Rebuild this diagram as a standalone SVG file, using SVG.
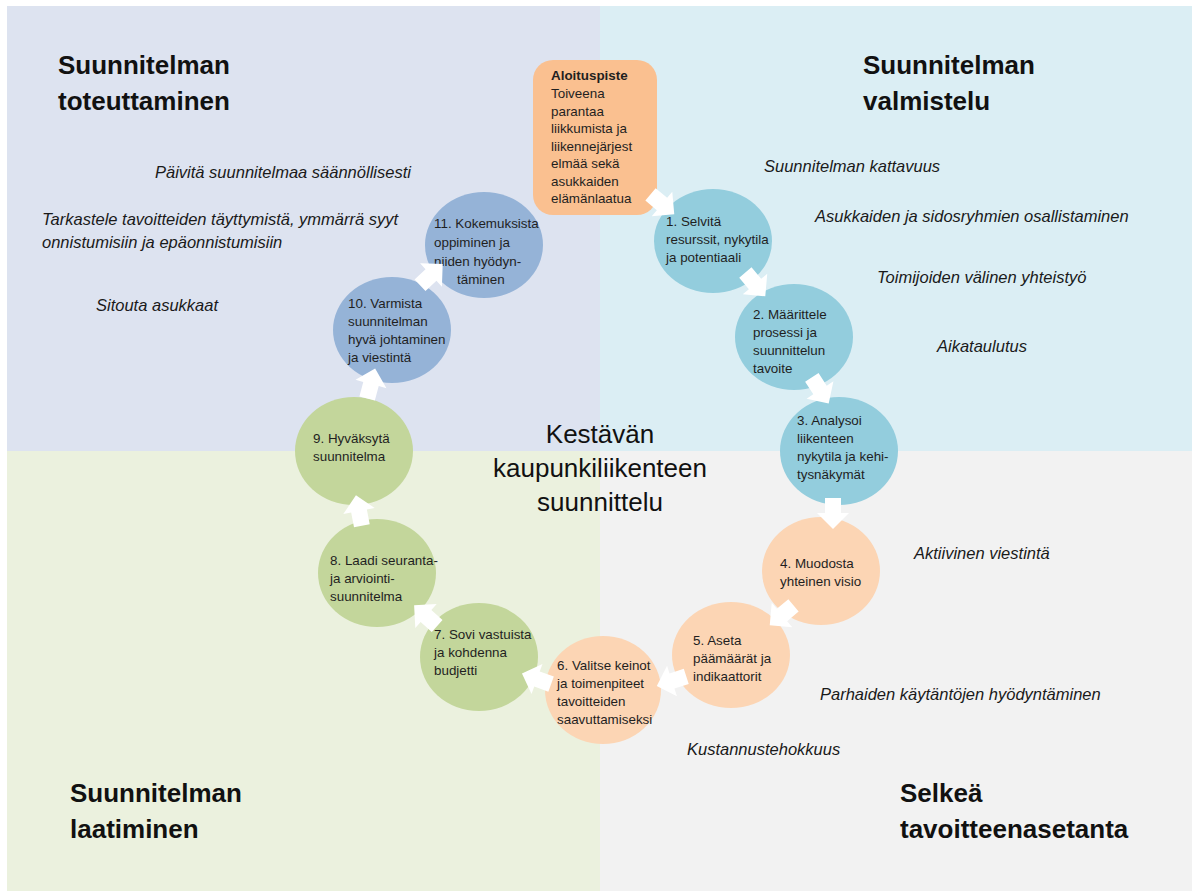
<svg xmlns="http://www.w3.org/2000/svg" xmlns:xlink="http://www.w3.org/1999/xlink" width="1198" height="893" viewBox="0 0 1198 893">
  <defs>
    <style>
      .bg { stroke: none; }
      .quad-title { font-family: "Liberation Sans", Arial, sans-serif; font-size: 26px; font-weight: bold; fill: #111; }
      .center-title { font-family: "Liberation Sans", Arial, sans-serif; font-size: 26px; fill: #111; text-anchor: middle; }
      .note { font-family: "Liberation Sans", Arial, sans-serif; font-size: 16.5px; font-style: italic; fill: #1a1a1a; }
      .step { font-family: "Liberation Sans", Arial, sans-serif; font-size: 13.4px; fill: #1f1f1f; }
      .step-bold { font-weight: bold; }
      .c-blue { fill: #93cddd; }
      .c-peach { fill: #fcd5b4; }
      .c-green { fill: #c3d69b; }
      .c-steel { fill: #95b3d7; }
      .c-start { fill: #fac090; }
      .flow { fill: #ffffff; }
    </style>
    <!-- block arrow pointing along +x, centred on the origin -->
    <path id="blockArrow" d="M-15,-8 L0,-8 L0,-16 L16,0 L0,16 L0,8 L-15,8 Z"/>
  </defs>

  <!-- quadrant backgrounds -->
  <g id="background">
    <rect class="bg" x="0" y="0" width="1198" height="893" fill="#ffffff"/>
    <rect class="bg" x="7" y="6" width="593" height="445" fill="#dde3f0"/>
    <rect class="bg" x="600" y="6" width="592" height="445" fill="#dbeef4"/>
    <rect class="bg" x="7" y="451" width="593" height="440" fill="#ebf1de"/>
    <rect class="bg" x="600" y="451" width="592" height="440" fill="#f2f2f2"/>
  </g>

  <!-- quadrant headings -->
  <g id="quadrant-titles">
    <text class="quad-title" x="58" y="74">Suunnitelman</text>
    <text class="quad-title" x="58" y="110">toteuttaminen</text>
    <text class="quad-title" x="863" y="74">Suunnitelman</text>
    <text class="quad-title" x="863" y="110">valmistelu</text>
    <text class="quad-title" x="70" y="802">Suunnitelman</text>
    <text class="quad-title" x="70" y="838">laatiminen</text>
    <text class="quad-title" x="900" y="802">Selkeä</text>
    <text class="quad-title" x="900" y="838">tavoitteenasetanta</text>
  </g>

  <!-- central heading -->
  <g id="center-title">
    <text class="center-title" x="600" y="443">Kestävän</text>
    <text class="center-title" x="600" y="477">kaupunkiliikenteen</text>
    <text class="center-title" x="600" y="511">suunnittelu</text>
  </g>

  <!-- side notes -->
  <g id="notes">
    <text class="note" x="764" y="172">Suunnitelman kattavuus</text>
    <text class="note" x="815" y="222">Asukkaiden ja sidosryhmien osallistaminen</text>
    <text class="note" x="877" y="283">Toimijoiden välinen yhteistyö</text>
    <text class="note" x="937" y="352">Aikataulutus</text>
    <text class="note" x="914" y="559">Aktiivinen viestintä</text>
    <text class="note" x="820" y="700">Parhaiden käytäntöjen hyödyntäminen</text>
    <text class="note" x="687" y="755">Kustannustehokkuus</text>
    <text class="note" x="155" y="178">Päivitä suunnitelmaa säännöllisesti</text>
    <text class="note" x="42" y="225">Tarkastele tavoitteiden täyttymistä, ymmärrä syyt</text>
    <text class="note" x="42" y="248">onnistumisiin ja epäonnistumisiin</text>
    <text class="note" x="96" y="311">Sitouta asukkaat</text>
  </g>

  <!-- starting point -->
  <g id="node-start">
    <rect class="c-start" x="533" y="60" width="124" height="155" rx="20" ry="20"/>
    <text class="step">
      <tspan class="step-bold" x="551" y="80">Aloituspiste</tspan>
      <tspan x="551" y="98">Toiveena</tspan>
      <tspan x="551" y="116">parantaa</tspan>
      <tspan x="551" y="133">liikkumista ja</tspan>
      <tspan x="551" y="151">liikennejärjest</tspan>
      <tspan x="551" y="168">elmää sekä</tspan>
      <tspan x="551" y="186">asukkaiden</tspan>
      <tspan x="551" y="203">elämänlaatua</tspan>
    </text>
  </g>

  <!-- steps 1-3: preparation -->
  <g id="node-1">
    <ellipse class="c-blue" cx="713" cy="241" rx="59" ry="52"/>
    <text class="step">
      <tspan x="666" y="226">1. Selvitä</tspan>
      <tspan x="666" y="244">resurssit, nykytila</tspan>
      <tspan x="666" y="262">ja potentiaali</tspan>
    </text>
  </g>
  <g id="node-2">
    <ellipse class="c-blue" cx="794" cy="337" rx="59" ry="53"/>
    <text class="step">
      <tspan x="753" y="319">2. Määrittele</tspan>
      <tspan x="753" y="337">prosessi ja</tspan>
      <tspan x="753" y="355">suunnittelun</tspan>
      <tspan x="753" y="373">tavoite</tspan>
    </text>
  </g>
  <g id="node-3">
    <ellipse class="c-blue" cx="839" cy="451" rx="59" ry="54"/>
    <text class="step">
      <tspan x="797" y="425">3. Analysoi</tspan>
      <tspan x="797" y="443">liikenteen</tspan>
      <tspan x="797" y="461">nykytila ja kehi-</tspan>
      <tspan x="797" y="479">tysnäkymät</tspan>
    </text>
  </g>

  <!-- steps 4-6: goal setting -->
  <g id="node-4">
    <ellipse class="c-peach" cx="821" cy="571" rx="59" ry="54"/>
    <text class="step">
      <tspan x="780" y="568">4. Muodosta</tspan>
      <tspan x="780" y="586">yhteinen visio</tspan>
    </text>
  </g>
  <g id="node-5">
    <ellipse class="c-peach" cx="731" cy="655" rx="59" ry="53"/>
    <text class="step">
      <tspan x="693" y="645">5. Aseta</tspan>
      <tspan x="693" y="663">päämäärät ja</tspan>
      <tspan x="693" y="681">indikaattorit</tspan>
    </text>
  </g>
  <g id="node-6">
    <ellipse class="c-peach" cx="603" cy="690" rx="58" ry="54"/>
    <text class="step">
      <tspan x="557" y="670">6. Valitse keinot</tspan>
      <tspan x="557" y="688">ja toimenpiteet</tspan>
      <tspan x="557" y="706">tavoitteiden</tspan>
      <tspan x="557" y="724">saavuttamiseksi</tspan>
    </text>
  </g>

  <!-- steps 7-9: drafting -->
  <g id="node-7">
    <ellipse class="c-green" cx="479" cy="657" rx="59" ry="54"/>
    <text class="step">
      <tspan x="434" y="639">7. Sovi vastuista</tspan>
      <tspan x="434" y="657">ja kohdenna</tspan>
      <tspan x="434" y="675">budjetti</tspan>
    </text>
  </g>
  <g id="node-8">
    <ellipse class="c-green" cx="377" cy="573" rx="59" ry="54"/>
    <text class="step">
      <tspan x="330" y="565">8. Laadi seuranta-</tspan>
      <tspan x="330" y="583">ja arviointi-</tspan>
      <tspan x="330" y="601">suunnitelma</tspan>
    </text>
  </g>
  <g id="node-9">
    <ellipse class="c-green" cx="354" cy="451" rx="59" ry="54"/>
    <text class="step">
      <tspan x="313" y="443">9. Hyväksytä</tspan>
      <tspan x="313" y="461">suunnitelma</tspan>
    </text>
  </g>

  <!-- steps 10-11: implementation -->
  <g id="node-10">
    <ellipse class="c-steel" cx="392" cy="330" rx="59" ry="53"/>
    <text class="step">
      <tspan x="348" y="308">10. Varmista</tspan>
      <tspan x="348" y="326">suunnitelman</tspan>
      <tspan x="348" y="344">hyvä johtaminen</tspan>
      <tspan x="348" y="362">ja viestintä</tspan>
    </text>
  </g>
  <g id="node-11">
    <ellipse class="c-steel" cx="484" cy="245" rx="59" ry="53"/>
    <text class="step">
      <tspan x="434" y="228">11. Kokemuksista</tspan>
      <tspan x="434" y="247">oppiminen ja</tspan>
      <tspan x="434" y="266">niiden hyödyn-</tspan>
      <tspan x="457" y="284">täminen</tspan>
    </text>
  </g>

  <!-- flow arrows between the steps -->
  <g id="connectors">
    <use class="flow" xlink:href="#blockArrow" transform="translate(662,204) rotate(40)"/>
    <use class="flow" xlink:href="#blockArrow" transform="translate(755,284) rotate(50)"/>
    <use class="flow" xlink:href="#blockArrow" transform="translate(820,390) rotate(57)"/>
    <use class="flow" xlink:href="#blockArrow" transform="translate(833,513) rotate(90)"/>
    <use class="flow" xlink:href="#blockArrow" transform="translate(782,615) rotate(140)"/>
    <use class="flow" xlink:href="#blockArrow" transform="translate(672,681) rotate(162)"/>
    <use class="flow" xlink:href="#blockArrow" transform="translate(537,679) rotate(200)"/>
    <use class="flow" xlink:href="#blockArrow" transform="translate(426,616) rotate(222)"/>
    <use class="flow" xlink:href="#blockArrow" transform="translate(359,511) rotate(259)"/>
    <use class="flow" xlink:href="#blockArrow" transform="translate(371,384) rotate(285)"/>
    <use class="flow" xlink:href="#blockArrow" transform="translate(431,275) rotate(317)"/>
  </g>
</svg>
